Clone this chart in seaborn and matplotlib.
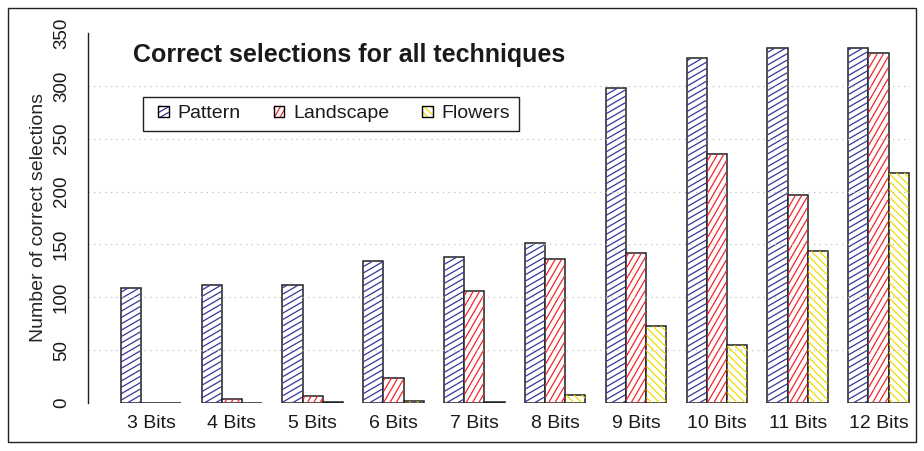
import numpy as np
import pandas as pd
import matplotlib

matplotlib.use("Agg")
import matplotlib.pyplot as plt
import seaborn as sns
from matplotlib.collections import LineCollection
from matplotlib.patches import Rectangle
from matplotlib.legend_handler import HandlerBase

bits = ["3 Bits", "4 Bits", "5 Bits", "6 Bits", "7 Bits",
        "8 Bits", "9 Bits", "10 Bits", "11 Bits", "12 Bits"]
techniques = ["Pattern", "Landscape", "Flowers"]
pattern = [109, 112, 112, 134, 138, 151, 298, 326, 336, 336]
landscape = [0, 4, 7, 24, 106, 136, 142, 236, 197, 331]
flowers = [0, 0, 1, 2, 1, 8, 73, 55, 144, 218]
y_ticks = [0, 50, 100, 150, 200, 250, 300, 350]
grid_levels = [50, 100, 150, 200, 250, 300]

hatch_colors = ["#35379a", "#f4252b", "#f0dc00"]
hatch_angles = [30, 60, 135]


def hatch_lines(x0, y0, x1, y1, angle, step):
    # parallel line segments at `angle` clipped to a rectangle
    a = np.deg2rad(angle)
    d = np.array([np.cos(a), np.sin(a)])
    n = np.array([-np.sin(a), np.cos(a)])
    corners = np.array([[x0, y0], [x1, y0], [x0, y1], [x1, y1]])
    proj = corners @ n
    out = []
    for c in np.arange(np.ceil(proj.min() / step) * step, proj.max(), step):
        p = c * n
        tlo, thi = -np.inf, np.inf
        ok = True
        for k, (lo, hi) in enumerate([(x0, x1), (y0, y1)]):
            if abs(d[k]) < 1e-12:
                if not lo <= p[k] <= hi:
                    ok = False
                continue
            t1 = (lo - p[k]) / d[k]
            t2 = (hi - p[k]) / d[k]
            tlo = max(tlo, min(t1, t2))
            thi = min(thi, max(t1, t2))
        if ok and thi > tlo:
            out.append([p + tlo * d, p + thi * d])
    return out


class HatchHandler(HandlerBase):
    def __init__(self, color, angle):
        super().__init__()
        self.color = color
        self.angle = angle

    def create_artists(self, legend, orig_handle, xdescent, ydescent,
                       width, height, fontsize, trans):
        x0, y0 = -xdescent, -ydescent
        face = Rectangle((x0, y0), width, height, facecolor="white",
                         edgecolor="none", transform=trans)
        segs = hatch_lines(x0, y0, x0 + width, y0 + height, self.angle, height / 2.4)
        lc = LineCollection(segs, colors=self.color, linewidths=0.9, transform=trans)
        edge = Rectangle((x0, y0), width, height, fill=False,
                         edgecolor="black", linewidth=1, transform=trans)
        return [face, lc, edge]


df = pd.DataFrame({
    "bits": bits * 3,
    "technique": np.repeat(techniques, len(bits)),
    "count": pattern + landscape + flowers,
})

sns.set_style("white")
plt.rcParams["font.family"] = ["Liberation Sans", "DejaVu Sans"]
plt.rcParams["text.color"] = "#1a1a1a"

W, H = 924, 451
fig = plt.figure(figsize=(W / 100, H / 100), dpi=100)
ax = fig.add_axes([88 / W, 1 - 403 / H, (910 - 88) / W, (403 - 33) / H])

sns.barplot(data=df, x="bits", y="count", hue="technique", hue_order=techniques,
            palette=["white"] * 3, saturation=1, width=0.75, errorbar=None,
            edgecolor="#202020", linewidth=1.1, legend=False, ax=ax, zorder=1)

ax.set_xlim(-0.78, 9.39)
ax.set_ylim(0, 350)

# hatching in pixel space so the angles come out right
to_px = ax.transData
inv = to_px.inverted()
for cont, col, ang in zip(ax.containers, hatch_colors, hatch_angles):
    segs = []
    for bar in cont:
        if bar.get_height() <= 0:
            continue
        (px0, py0), (px1, py1) = to_px.transform(
            [(bar.get_x(), bar.get_y()),
             (bar.get_x() + bar.get_width(), bar.get_y() + bar.get_height())])
        for seg in hatch_lines(px0 + 0.5, py0 + 0.5, px1 - 0.5, py1 - 0.5, ang, 5.5):
            segs.append(inv.transform(np.array(seg)))
    ax.add_collection(LineCollection(segs, colors=col, linewidths=0.9, zorder=1.5))

for lvl in grid_levels:
    ax.axhline(lvl, color="#bdbdbd", lw=0.9, ls=(0, (1, 3.5)), zorder=2.5)

for s in ["top", "right", "bottom"]:
    ax.spines[s].set_visible(False)
ax.spines["left"].set_bounds(0, 350)
ax.spines["left"].set_color("#202020")
ax.spines["left"].set_linewidth(1)
ax.set_yticks(y_ticks)
ax.tick_params(axis="y", length=7, width=1, labelsize=13.5, pad=6,
               labelrotation=90, colors="#202020", labelcolor="#1a1a1a")
for lbl in ax.get_yticklabels():
    lbl.set_va("center")
ax.tick_params(axis="x", length=0, labelsize=14, pad=9, labelcolor="#1a1a1a")
ax.set_xlabel("")
ax.set_ylabel("Number of correct selections", fontsize=14)
ax.yaxis.set_label_coords((47 - 88) / (910 - 88), 0.5)

fig.text(133 / W, 1 - 55 / H, "Correct selections for all techniques",
         fontsize=18, fontweight="bold", ha="left", va="center")

handles = [Rectangle((0, 0), 1, 1) for _ in techniques]
hmap = {h: HatchHandler(c, a) for h, c, a in zip(handles, hatch_colors, hatch_angles)}
ax.legend(handles, techniques, handler_map=hmap, loc="center left",
          bbox_to_anchor=(158 / W, 1 - 114 / H), bbox_transform=fig.transFigure,
          ncol=3, frameon=False, fontsize=14, handlelength=0.55, handleheight=0.55,
          handletextpad=0.45, columnspacing=1.7, borderpad=0, borderaxespad=0)
ax.add_patch(Rectangle((143 / W, 1 - 131 / H), (519 - 143) / W, (131 - 97) / H,
                       transform=fig.transFigure, facecolor="white",
                       edgecolor="#202020", lw=1, zorder=4, clip_on=False))
fig.patches.append(Rectangle((8 / W, 1 - 442 / H), (916 - 8) / W, (442 - 8) / H,
                             transform=fig.transFigure, fill=False,
                             edgecolor="#202020", lw=1))

fig.savefig("out.png", dpi=100)
